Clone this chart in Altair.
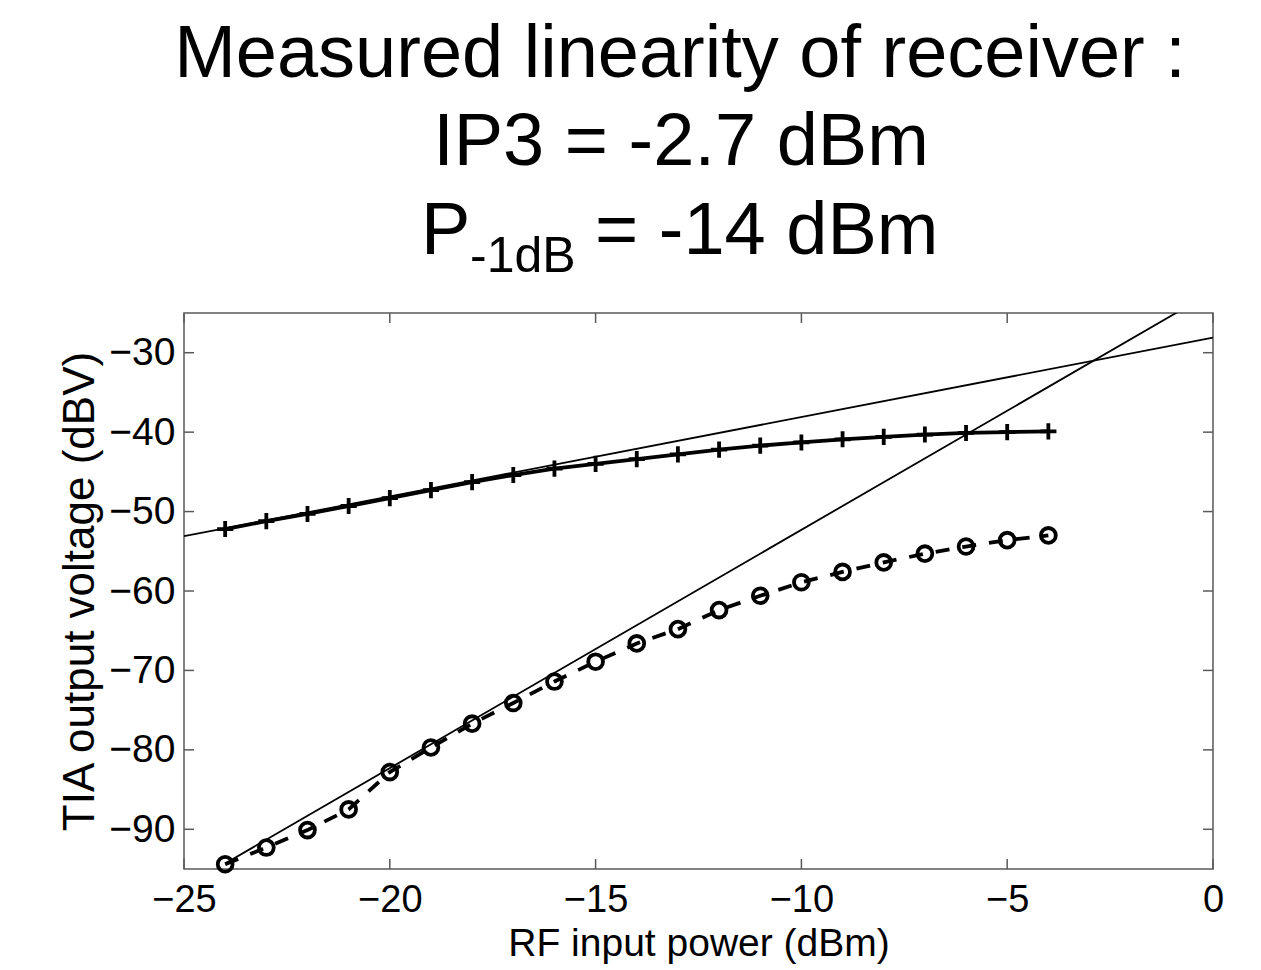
import altair as alt
import pandas as pd

# ---------------- data ----------------
power_dbm = [-24, -23, -22, -21, -20, -19, -18, -17, -16, -15, -14,
             -13, -12, -11, -10, -9, -8, -7, -6, -5, -4]
fund_dbv = [-52.2, -51.2, -50.3, -49.3, -48.3, -47.3, -46.3, -45.4, -44.6, -44.0, -43.4,
            -42.8, -42.2, -41.7, -41.3, -40.9, -40.6, -40.3, -40.1, -40.0, -39.9]
im3_dbv = [-94.4, -92.3, -90.1, -87.5, -82.8, -79.7, -76.7, -74.1, -71.4, -68.9, -66.6,
           -64.8, -62.4, -60.6, -58.9, -57.6, -56.4, -55.3, -54.4, -53.6, -53.0]

# extrapolated straight lines (slope 1 and slope 3)
fit_names = ["fund_fit", "im3_fit"]
fit_slopes = [1.0, 3.0]
fit_intercepts = [-28.1, -22.3]
fit_x_start = [-25, -24]
fit_x_end = [0, 0]

x_ticks = [-25, -20, -15, -10, -5, 0]
y_ticks = [-90, -80, -70, -60, -50, -40, -30]

title_line1 = "Measured linearity of receiver :"
title_line2 = "IP3 = -2.7 dBm"
p1db_main = "P"
p1db_sub = "-1dB"
p1db_rest = "= -14 dBm"

x_title = "RF input power (dBm)"
y_title = "TIA output voltage (dBV)"

# ---------------- tables ----------------
meas = pd.DataFrame({"p": power_dbm, "fund": fund_dbv, "im3": im3_dbv})
rows = []
for n, s, b, x0, x1 in zip(fit_names, fit_slopes, fit_intercepts, fit_x_start, fit_x_end):
    for xv in (x0, x1):
        rows.append({"name": n, "p": xv, "v": s * xv + b})
fit = pd.DataFrame(rows)
xt = pd.DataFrame({"t": x_ticks})
yt = pd.DataFrame({"t": y_ticks})

W, H = 1029, 556
FONT = "Liberation Sans"
FRAME = "#5a5a5a"

xs = alt.Scale(domain=[-25, 0], nice=False, zero=False)
ys = alt.Scale(domain=[-95, -25], nice=False, zero=False)

minus_expr = "datum.value < 0 ? '\u2212' + abs(datum.value) : '' + datum.value"

x_axis = alt.Axis(values=x_ticks, title=x_title, domain=False, ticks=False, grid=False,
                  labelFont=FONT, labelFontSize=38, labelColor="black", labelPadding=12,
                  labelExpr=minus_expr, labelFlush=False, labelOverlap=False,
                  titleFont=FONT, titleFontSize=39, titleFontWeight="normal",
                  titleColor="black", titleY=86, titleBaseline="alphabetic")
y_axis = alt.Axis(values=y_ticks, title=y_title, domain=False, ticks=False, grid=False,
                  labelFont=FONT, labelFontSize=39, labelColor="black", labelPadding=9,
                  labelExpr=minus_expr, labelFlush=False, labelOverlap=False,
                  titleFont=FONT, titleFontSize=44, titleFontWeight="normal",
                  titleColor="black", titleX=-91, titleY=H / 2, titleAngle=270,
                  titleBaseline="alphabetic", titleAlign="center")

X = alt.X("p:Q", scale=xs, axis=x_axis)

fit_layer = alt.Chart(fit).mark_line(color="black", strokeWidth=1.8, clip=True).encode(
    x=X, y=alt.Y("v:Q", scale=ys, axis=y_axis), detail="name:N")

fund_line = alt.Chart(meas).mark_line(color="black", strokeWidth=3.8).encode(
    x=X, y=alt.Y("fund:Q", scale=ys, axis=y_axis))

im3_line = alt.Chart(meas).mark_line(color="black", strokeWidth=3.8, strokeDash=[14, 13]).encode(
    x=X, y=alt.Y("im3:Q", scale=ys, axis=y_axis))

fund_pts = alt.Chart(meas).mark_point(shape="M-1,0L1,0M0,-1L0,1", size=260, filled=False,
                                      stroke="black", strokeWidth=3.8, opacity=1).encode(
    x=X, y=alt.Y("fund:Q", scale=ys, axis=y_axis))

im3_pts = alt.Chart(meas).mark_point(shape="circle", size=220, filled=False,
                                     stroke="black", strokeWidth=3.8, opacity=1).encode(
    x=X, y=alt.Y("im3:Q", scale=ys, axis=y_axis))

# inward ticks on all four sides
xtick_bottom = alt.Chart(xt).mark_rule(color=FRAME, strokeWidth=1.5).encode(
    x=alt.X("t:Q", scale=xs, axis=x_axis), y=alt.value(H), y2=alt.value(H - 10))
xtick_top = alt.Chart(xt).mark_rule(color=FRAME, strokeWidth=1.5).encode(
    x=alt.X("t:Q", scale=xs, axis=x_axis), y=alt.value(0), y2=alt.value(10))
ytick_left = alt.Chart(yt).mark_rule(color=FRAME, strokeWidth=1.5).encode(
    y=alt.Y("t:Q", scale=ys, axis=y_axis), x=alt.value(0), x2=alt.value(10))
ytick_right = alt.Chart(yt).mark_rule(color=FRAME, strokeWidth=1.5).encode(
    y=alt.Y("t:Q", scale=ys, axis=y_axis), x=alt.value(W), x2=alt.value(W - 10))


def txt(s, size, x, y, align):
    return alt.Chart(pd.DataFrame({"s": [s]})).mark_text(
        font=FONT, fontSize=size, color="black", align=align, baseline="alphabetic"
    ).encode(text="s:N", x=alt.value(x), y=alt.value(y))


t1 = txt(title_line1, 74, 496, -236, "center")
t2 = txt(title_line2, 74, 497, -148, "center")
t3a = txt(p1db_main, 74, 237, -59, "left")
t3b = txt(p1db_sub, 50, 286, -41, "left")
t3c = txt(p1db_rest, 74, 411, -59, "left")

chart = alt.layer(
    fit_layer, fund_line, im3_line, fund_pts, im3_pts,
    xtick_bottom, xtick_top, ytick_left, ytick_right,
    t1, t2, t3a, t3b, t3c,
).properties(
    width=W, height=H,
    padding={"left": 184, "top": 313, "right": 48, "bottom": 101},
    autosize=alt.AutoSizeParams(type="none"),
    background="white",
).configure_view(stroke=FRAME, strokeWidth=1.5)

chart.save("out.html", embed_options={"renderer": "svg", "actions": False})
